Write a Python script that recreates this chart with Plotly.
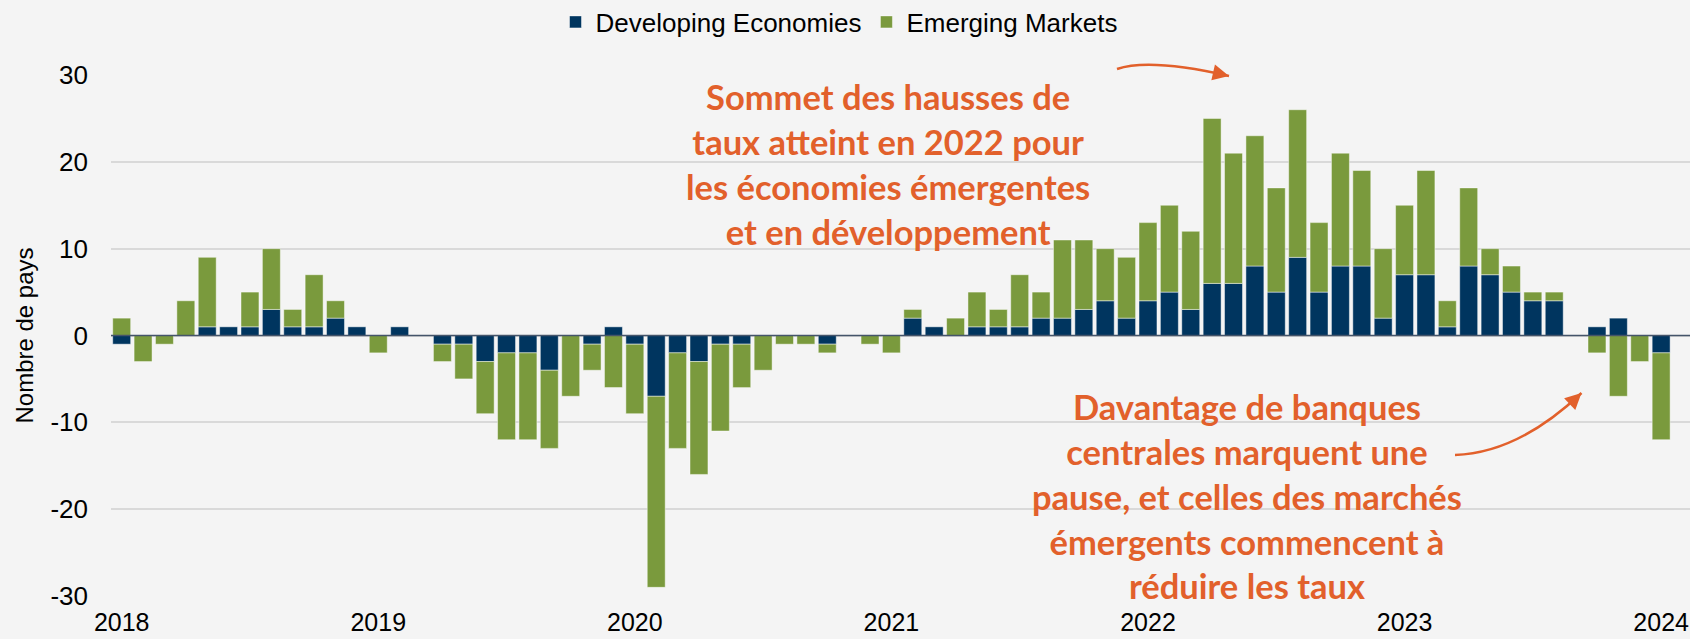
import plotly.graph_objects as go

# ---------------- data ----------------
months = [f"{y}-{m:02d}" for y in range(2018, 2024) for m in range(1, 13)] + ["2024-01"]

developing = [
    -1, 0, 0, 0, 1, 1, 1, 3, 1, 1, 2, 1,          # 2018
    0, 1, 0, -1, -1, -3, -2, -2, -4, 0, -1, 1,    # 2019
    -1, -7, -2, -3, -1, -1, 0, 0, 0, -1, 0, 0,    # 2020
    0, 2, 1, 0, 1, 1, 1, 2, 2, 3, 4, 2,           # 2021
    4, 5, 3, 6, 6, 8, 5, 9, 5, 8, 8, 2,           # 2022
    7, 7, 1, 8, 7, 5, 4, 4, 0, 1, 2, 0,           # 2023
    -2,                                           # 2024
]
emerging = [
    2, -3, -1, 4, 8, 0, 4, 7, 2, 6, 2, 0,
    -2, 0, 0, -2, -4, -6, -10, -10, -9, -7, -3, -6,
    -8, -22, -11, -13, -10, -5, -4, -1, -1, -1, 0, -1,
    -2, 1, 0, 2, 4, 2, 6, 3, 9, 8, 6, 7,
    9, 10, 9, 19, 15, 15, 12, 17, 8, 13, 11, 8,
    8, 12, 3, 9, 3, 3, 1, 1, 0, -2, -7, -3,
    -10,
]
year_ticks = ["2018-01", "2019-01", "2020-01", "2021-01", "2022-01", "2023-01", "2024-01"]
year_labels = ["2018", "2019", "2020", "2021", "2022", "2023", "2024"]
y_ticks = [-30, -20, -10, 0, 10, 20, 30]
y_labels = ["-30", "-20", "-10", "0", "10", "20", "30"]

series_names = ["Developing Economies", "Emerging Markets"]
note_peak = "Sommet des hausses de<br>taux atteint en 2022 pour<br>les économies émergentes<br>et en développement"
note_pause = ("Davantage de banques<br>centrales marquent une<br>pause, et celles des marchés"
              "<br>émergents commencent à<br>réduire les taux")

# ---------------- style ----------------
NAVY = "#00355F"
GREEN = "#7A9A3D"
ORANGE = "#E2602B"
BG = "#F4F4F4"
W, H = 1690, 639
L, R, T, B = 111, 0, 75, 43
PW, PH = W - L - R, H - T - B


def px(xp):
    return (xp - L) / PW


def py(yp):
    return (H - B - yp) / PH


def nz(vals):
    return [v if v != 0 else None for v in vals]


fig = go.Figure()
for name, vals, col in [(series_names[0], developing, NAVY), (series_names[1], emerging, GREEN)]:
    fig.add_trace(go.Bar(
        name=name, x=months, y=nz(vals),
        marker=dict(color=col, line=dict(color="rgba(255,255,255,0.45)", width=1)),
    ))

fig.update_layout(
    width=W, height=H, autosize=False,
    paper_bgcolor=BG, plot_bgcolor=BG,
    barmode="relative", bargap=0.16,
    margin=dict(l=L, r=R, t=T, b=B, pad=0, autoexpand=False),
    font=dict(family="Liberation Sans, Arial, sans-serif", color="#000000"),
    legend=dict(
        orientation="h", x=px(839), xanchor="center", y=py(22), yanchor="middle",
        font=dict(size=26, color="#000000"), itemwidth=30, bgcolor="rgba(0,0,0,0)",
        traceorder="normal",
    ),
    xaxis=dict(
        type="category", range=[-0.5, 73.35], automargin=False,
        tickmode="array", tickvals=year_ticks, ticktext=year_labels,
        showgrid=False, zeroline=False, showline=False, ticks="",
        tickfont=dict(size=25, color="#000000"), ticklabelstandoff=9,
    ),
    yaxis=dict(
        range=[-30, 30], tickmode="array", tickvals=y_ticks, ticktext=y_labels,
        automargin=False,
        showgrid=True, gridcolor="#D9D9D9", gridwidth=1.5,
        zeroline=False, showline=False, ticks="",
        tickfont=dict(size=26, color="#000000"), ticklabelstandoff=22,
        title=dict(text="Nombre de pays", font=dict(size=24, color="#000000"), standoff=10),
    ),
    showlegend=True,
)

# zero axis line drawn above bars
fig.add_shape(type="line", xref="paper", x0=0, x1=1, yref="y", y0=0, y1=0,
              line=dict(color="#44546A", width=1.6), layer="above")

# text notes
fig.add_annotation(xref="paper", yref="paper", x=px(888), y=py(164), text=note_peak,
                   showarrow=False, align="center", xanchor="center", yanchor="middle",
                   font=dict(family="Lato", size=34.5, color=ORANGE, weight="bold"))
fig.add_annotation(xref="paper", yref="paper", x=px(1247), y=py(496), text=note_pause,
                   showarrow=False, align="center", xanchor="center", yanchor="middle",
                   font=dict(family="Lato", size=34.5, color=ORANGE, weight="bold"))

# curved arrows
arrows = [
    ((1117, 69), (1150, 58), (1229, 76)),
    ((1455, 455), (1518, 453), (1581.5, 393)),
]
for p0, p1, p2 in arrows:
    path = (f"M {px(p0[0])},{py(p0[1])} Q {px(p1[0])},{py(p1[1])} "
            f"{px(p2[0])},{py(p2[1])}")
    fig.add_shape(type="path", xref="paper", yref="paper", path=path,
                  line=dict(color=ORANGE, width=2.5), fillcolor="rgba(0,0,0,0)", layer="above")
    dx, dy = p2[0] - p1[0], p2[1] - p1[1]
    n = (dx * dx + dy * dy) ** 0.5
    fig.add_annotation(xref="paper", yref="paper", x=px(p2[0]), y=py(p2[1]), text="",
                       showarrow=True, arrowhead=2, arrowsize=1.3, arrowwidth=2.5,
                       arrowcolor=ORANGE, ax=-12 * dx / n, ay=-12 * dy / n, standoff=0)

fig.write_html("out.html", config={"displayModeBar": False},
               post_script="document.body.style.margin='0';")
